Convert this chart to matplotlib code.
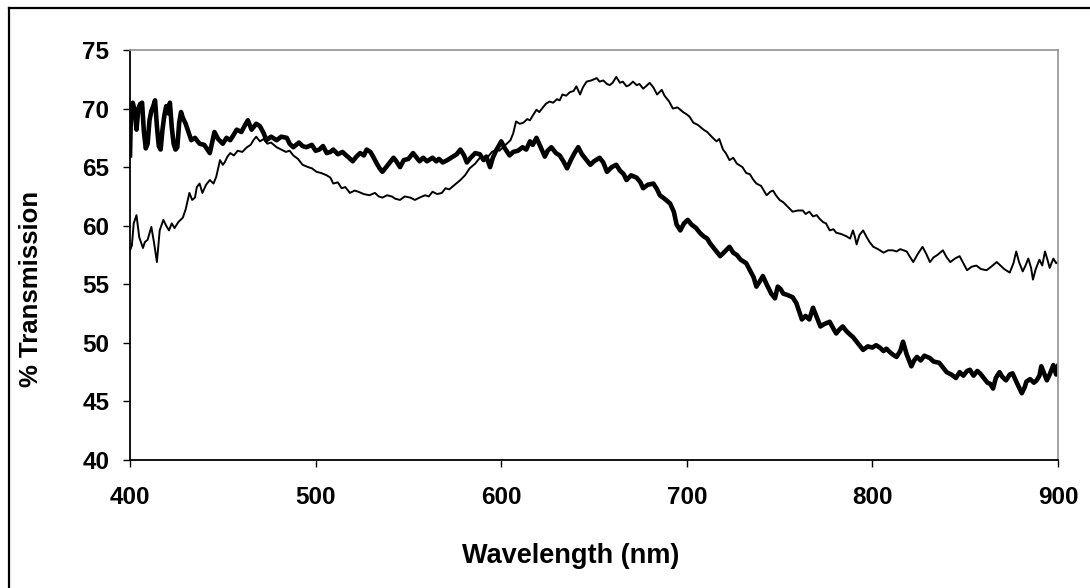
import matplotlib
matplotlib.use("Agg")
import matplotlib.pyplot as plt
from matplotlib.lines import Line2D

### DATA ###
# thin trace (nm / %)
wl_thin = [400, 401, 402, 403.5, 405, 407, 408, 409.5, 411.5, 413,
           414.5, 416, 418, 419.5, 421, 422.5, 424, 426, 428.5, 430,
           432, 433.5, 435, 436, 437.5, 439, 441, 443, 445, 446.5,
           448.5, 450, 451, 452.5, 454, 456, 458, 460.5, 463, 465,
           466.5, 468, 470, 472, 474, 476, 479, 481.5, 484, 486,
           488, 490.5, 493, 496, 498, 500.5, 503, 506, 508, 509.5,
           512, 514, 516, 518.5, 521, 523, 526, 529, 532, 534,
           536, 538.5, 541, 543, 545.5, 548, 551, 553.5, 556, 559,
           561, 563, 565.5, 568, 570, 572, 575, 578, 580.5, 583,
           586, 588.5, 591, 593, 595, 597.5, 599, 601, 603, 605,
           606.5, 608, 610, 612, 614, 615.5, 617, 619, 620.5, 622,
           624, 626, 628, 630, 631.5, 633, 635, 637, 639, 640.5,
           642.5, 644, 646, 648.5, 651.5, 653, 655, 657, 658.5, 660,
           662, 664, 665.5, 667.5, 669, 671, 673, 674.5, 676.5, 678,
           680, 682, 684, 686.5, 688, 689, 690.5, 692.5, 695, 698,
           700, 701.5, 703.5, 706, 709, 711, 714, 716, 717.5, 719.5,
           721, 723, 725, 727, 730, 732, 734, 735.5, 737.5, 740,
           743, 745, 746.5, 748, 750, 752, 754.5, 757, 760, 762.5,
           764, 766, 768, 770, 771.5, 773.5, 775, 777, 779, 780.5,
           783, 786, 788, 789.5, 790.5, 791.5, 793, 795, 797, 798.5,
           800.5, 803, 806, 808.5, 811, 813, 815, 818.5, 820, 822,
           824.5, 827, 829, 831, 833, 835, 836.5, 838, 840, 842,
           844.5, 847, 849, 851, 853.5, 856, 858.5, 861.5, 864, 867,
           869, 871, 874, 876, 877.5, 879, 881, 882.5, 884, 885.5,
           886.5, 888, 890, 891.5, 893, 894.5, 895.5, 897.5, 899, 900]
tr_thin = [57.9, 58.3, 60.2, 60.9, 59.0, 58.1, 58.6, 58.8, 59.9, 58.5,
           56.9, 59.6, 60.5, 60.0, 59.6, 60.2, 59.8, 60.3, 60.7, 61.4,
           62.8, 62.2, 62.4, 63.3, 63.6, 62.8, 63.5, 63.9, 63.6, 64.2,
           65.6, 65.2, 65.4, 65.9, 66.2, 66.0, 66.4, 66.3, 66.7, 66.9,
           67.3, 67.6, 67.2, 67.4, 67.0, 67.1, 66.7, 66.5, 66.3, 66.4,
           66.0, 65.7, 65.2, 65.0, 64.9, 64.6, 64.5, 64.3, 64.1, 63.6,
           63.7, 63.2, 63.3, 62.8, 63.0, 62.9, 62.7, 62.6, 62.8, 62.5,
           62.4, 62.6, 62.5, 62.3, 62.2, 62.5, 62.4, 62.2, 62.4, 62.6,
           62.5, 62.9, 62.7, 62.8, 63.2, 63.1, 63.5, 63.9, 64.3, 64.9,
           65.3, 65.8, 65.7, 65.9, 66.3, 66.5, 66.4, 66.7, 67.0, 67.3,
           67.9, 68.9, 68.7, 68.8, 69.1, 69.0, 69.4, 69.9, 69.7, 70.0,
           70.4, 70.6, 70.5, 70.8, 70.7, 71.2, 71.1, 71.4, 71.5, 71.9,
           71.2, 71.8, 72.3, 72.4, 72.6, 72.3, 72.4, 72.1, 72.0, 72.2,
           72.7, 72.2, 72.3, 71.9, 72.0, 72.3, 72.0, 72.1, 71.7, 71.9,
           72.2, 71.8, 71.2, 71.6, 71.1, 70.9, 70.6, 70.0, 70.1, 69.7,
           69.5, 69.3, 68.8, 68.6, 68.2, 68.0, 67.5, 67.2, 67.4, 66.5,
           66.2, 65.6, 65.8, 65.3, 65.0, 64.5, 64.4, 64.0, 63.6, 63.4,
           62.6, 62.9, 63.0, 62.6, 62.2, 62.0, 61.6, 61.2, 61.3, 61.3,
           61.0, 61.2, 60.8, 60.9, 60.6, 60.3, 60.2, 59.6, 59.7, 59.4,
           59.3, 59.1, 58.9, 59.6, 59.1, 58.4, 59.2, 59.6, 59.0, 58.6,
           58.2, 58.0, 57.7, 57.9, 57.9, 57.8, 58.0, 57.8, 57.4, 56.9,
           57.6, 58.2, 57.6, 56.9, 57.3, 57.5, 57.7, 57.9, 57.3, 56.9,
           57.2, 57.4, 56.8, 56.2, 56.5, 56.6, 56.3, 56.2, 56.5, 56.9,
           56.6, 56.3, 56.0, 56.8, 57.8, 56.9, 56.1, 56.6, 57.2, 56.4,
           55.4, 56.3, 57.1, 56.6, 57.8, 57.0, 56.4, 57.2, 56.8, 56.9]

# thick trace
wl_thick = [400, 400.5, 401.5, 402.5, 403.5, 404.5, 405.5, 406.5, 407.5, 408.5,
            409.5, 410.5, 411.5, 412.5, 413.5, 414.5, 415.5, 416.5, 417.5, 418.5,
            419.5, 420.5, 421.5, 422.5, 423.5, 424.5, 425.5, 426.5, 427.5, 428.5,
            430, 431.5, 433, 435, 437.5, 440, 443, 445.5, 447.5, 450,
            452, 454, 456, 457.5, 460, 462, 463.5, 465.5, 468, 470,
            472, 473.5, 476, 479, 481.5, 484.5, 486, 488, 491, 493,
            495, 498, 500, 502, 504, 506, 508, 509.5, 512, 514.5,
            516.5, 518, 520, 522, 524, 526, 527.5, 529.5, 531, 533,
            534.5, 536, 538, 540, 542, 543.5, 545.5, 547.5, 550, 552.5,
            554, 556, 558, 560, 563, 565, 566.5, 568.5, 571, 574,
            576, 578, 580, 581.5, 583.5, 586, 588.5, 590.5, 592, 594,
            595.5, 597.5, 599, 600, 602, 604.5, 606.5, 609, 611.5, 613.5,
            615.5, 617, 619, 621, 623.5, 625, 627, 629.5, 631.5, 633.5,
            635.5, 637.5, 639.5, 641.5, 643.5, 646, 648, 650, 653, 655,
            657, 659.5, 662, 664, 666, 667.5, 670, 673, 675, 676.5,
            679, 682, 684, 685.5, 688, 691, 693, 694.5, 696.5, 698.5,
            700.5, 702.5, 705, 707, 709, 711, 712.5, 715, 718, 720.5,
            723, 725, 727, 729, 732, 734, 736, 737.5, 739.5, 741,
            743, 745.5, 747.5, 749, 750.5, 752, 754, 757, 759, 760.5,
            762, 764, 766, 768, 770, 772, 774, 777, 779, 780.5,
            782, 784, 786, 788, 789.5, 792, 795, 797.5, 800, 802,
            804, 806, 807.5, 809.5, 811, 813, 815, 816.5, 818.5, 821,
            822.5, 824, 826, 828, 831, 833, 836, 838, 840, 842.5,
            845, 847, 849, 851, 852.5, 854.5, 856.5, 858, 860, 862,
            863.5, 865, 866.5, 868.5, 870, 872, 874, 875.5, 877.5, 880.5,
            882, 883, 885, 887, 888.5, 890, 891, 892.5, 894, 895.5,
            897.5, 899, 900]
tr_thick = [66.0, 69.5, 70.5, 69.8, 68.2, 70.0, 70.4, 70.5, 68.0, 66.6,
            67.0, 69.0, 69.8, 70.2, 70.7, 68.5, 66.8, 66.5, 68.2, 69.4,
            70.2, 69.6, 70.5, 68.4, 67.0, 66.5, 66.7, 68.8, 69.7, 69.2,
            68.7, 68.0, 67.3, 67.5, 67.0, 66.9, 66.2, 68.0, 67.4, 67.0,
            67.5, 67.3, 67.8, 68.2, 68.0, 68.6, 69.0, 68.2, 68.7, 68.5,
            67.9, 67.3, 67.6, 67.3, 67.6, 67.5, 67.0, 66.7, 67.1, 66.8,
            66.7, 66.9, 66.4, 66.5, 66.8, 66.2, 66.3, 66.5, 66.1, 66.3,
            66.0, 65.8, 65.5, 65.9, 66.2, 66.0, 66.5, 66.3, 65.9, 65.3,
            64.9, 64.6, 65.0, 65.4, 65.8, 65.5, 65.0, 65.6, 65.7, 66.2,
            65.9, 65.5, 65.8, 65.5, 65.8, 65.5, 65.7, 65.4, 65.6, 65.9,
            66.1, 66.5, 66.0, 65.4, 65.8, 66.2, 66.1, 65.6, 65.9, 65.0,
            65.8, 66.5, 66.9, 67.2, 66.6, 66.0, 66.3, 66.4, 66.7, 66.5,
            67.2, 66.9, 67.5, 66.8, 65.9, 66.4, 66.7, 66.2, 66.0, 65.5,
            64.9, 65.6, 66.2, 66.7, 66.1, 65.6, 65.2, 65.5, 65.8, 65.4,
            64.6, 65.0, 65.2, 64.7, 64.4, 63.9, 64.3, 64.1, 63.7, 63.2,
            63.5, 63.6, 63.1, 62.6, 62.3, 61.9, 61.2, 60.1, 59.6, 60.2,
            60.5, 60.1, 59.8, 59.4, 59.1, 58.9, 58.5, 58.0, 57.4, 57.8,
            58.2, 57.7, 57.5, 57.1, 56.8, 56.2, 55.6, 54.8, 55.3, 55.7,
            55.0, 54.2, 53.8, 54.8, 54.6, 54.2, 54.1, 53.9, 53.4, 52.7,
            52.0, 52.3, 52.0, 53.0, 52.2, 51.4, 51.6, 51.8, 51.2, 50.8,
            51.1, 51.4, 51.0, 50.7, 50.5, 50.0, 49.4, 49.7, 49.6, 49.8,
            49.6, 49.3, 49.5, 49.2, 49.0, 48.8, 49.3, 50.1, 49.0, 48.0,
            48.5, 48.8, 48.5, 48.9, 48.7, 48.4, 48.3, 47.9, 47.5, 47.3,
            47.0, 47.5, 47.2, 47.6, 47.7, 47.2, 47.6, 47.4, 47.0, 46.6,
            46.5, 46.1, 47.0, 47.5, 47.1, 46.8, 47.3, 47.4, 46.7, 45.7,
            46.2, 46.7, 46.9, 46.6, 46.8, 47.2, 48.0, 47.4, 46.8, 47.3,
            48.1, 47.3, 48.0]

x_ticks = [400, 500, 600, 700, 800, 900]
y_ticks = [40, 45, 50, 55, 60, 65, 70, 75]

### STYLE ###
plt.rcParams['font.family'] = ['Liberation Sans', 'DejaVu Sans']
plt.rcParams['font.weight'] = 'bold'


def main():
    fig = plt.figure(figsize=(10.9, 5.88), dpi=100)
    ax = fig.add_axes([130 / 1090, 1 - 460 / 588, 928 / 1090, 410 / 588])

    ax.plot(wl_thin, tr_thin, color="black", lw=1.4)
    ax.plot(wl_thick, tr_thick, color="black", lw=3.3)

    ax.set_xlim(400, 900)
    ax.set_ylim(40, 75)
    ax.set_xticks(x_ticks)
    ax.set_yticks(y_ticks)
    ax.tick_params(axis="both", direction="out", length=5, width=1, labelsize=17.5, colors="black")
    ax.tick_params(axis="x", pad=14)
    ax.tick_params(axis="y", pad=10)
    for lab in ax.get_xticklabels() + ax.get_yticklabels():
        lab.set_fontweight("bold")

    for side in ["left", "bottom"]:
        ax.spines[side].set_color("black")
        ax.spines[side].set_linewidth(1.3)
    for side in ["top", "right"]:
        ax.spines[side].set_color("#9a9a9a")
        ax.spines[side].set_linewidth(1.3)

    # axis titles placed where the original has them
    ax.set_xlabel("Wavelength (nm)", fontsize=19.5, fontweight="bold")
    ax.xaxis.set_label_coords((571 - 130) / 928, (460 - 556) / 410)
    ax.xaxis.label.set_va("center")
    ax.set_ylabel("% Transmission", fontsize=18.5, fontweight="bold")
    ax.yaxis.set_label_coords((31 - 130) / 928, (460 - 289) / 410)
    ax.yaxis.label.set_va("center")

    # outer chart frame (only top and left edges fall inside the picture)
    fig.add_artist(Line2D([9 / 1090, 1.0], [1 - 8 / 588, 1 - 8 / 588], color="black", lw=1.6,
                          transform=fig.transFigure))
    fig.add_artist(Line2D([9 / 1090, 9 / 1090], [0.0, 1 - 8 / 588], color="black", lw=1.6,
                          transform=fig.transFigure))

    fig.savefig("out.png", dpi=100)


if __name__ == '__main__':
    main()
